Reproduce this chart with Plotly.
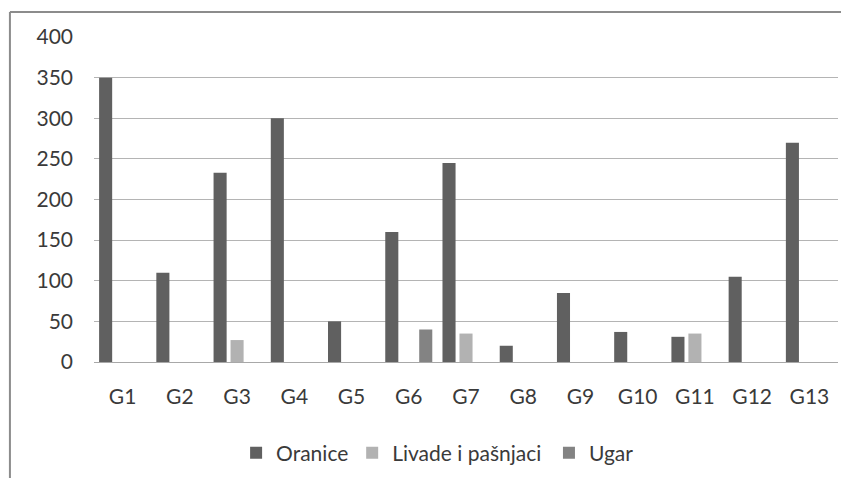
import plotly.graph_objects as go

# groups and series
groups = ['G1', 'G2', 'G3', 'G4', 'G5', 'G6', 'G7', 'G8', 'G9', 'G10', 'G11', 'G12', 'G13']
oranice = [350, 110, 233, 300, 50, 160, 245, 20, 85, 37, 31, 105, 270]
livade = [0, 0, 27, 0, 0, 0, 35, 0, 0, 0, 35, 0, 0]
ugar = [0, 0, 0, 0, 0, 40, 0, 0, 0, 0, 0, 0, 0]
y_ticks = [0, 50, 100, 150, 200, 250, 300, 350, 400]

FONT = dict(family='Lato, Calibri, sans-serif', size=21, color='#3a3a3a')

fig = go.Figure()
fig.add_trace(go.Bar(x=groups, y=oranice, name='Oranice', legend='legend',
                     marker=dict(color='#606060', line=dict(width=0))))
fig.add_trace(go.Bar(x=groups, y=livade, name='Livade i pašnjaci', legend='legend2',
                     marker=dict(color='#b2b2b2', line=dict(width=0))))
fig.add_trace(go.Bar(x=groups, y=ugar, name='Ugar', legend='legend3',
                     marker=dict(color='#838383', line=dict(width=0))))

# outer frame (only top and left edges visible in the crop)
fig.add_shape(type='line', xref='paper', yref='paper', x0=-0.113, x1=-0.113, y0=1.077, y1=-0.5,
              line=dict(color='#8c8c8c', width=2))
fig.add_shape(type='line', xref='paper', yref='paper', x0=-0.113, x1=1.1, y0=1.077, y1=1.077,
              line=dict(color='#8c8c8c', width=2))


def leg(x):
    # one legend per series so each entry sits where the reference has it
    return dict(orientation='h', x=x, xanchor='left', y=-0.28, yanchor='middle',
                font=FONT, itemwidth=30, bgcolor='rgba(0,0,0,0)')


# page body has an 8px margin, so the figure is 8px smaller each way
fig.update_layout(
    width=841, height=470,
    margin=dict(l=86, r=11, t=29, b=116, autoexpand=False),
    paper_bgcolor='white', plot_bgcolor='white',
    font=FONT,
    barmode='group', bargap=0.11, bargroupgap=0.23,
    showlegend=True,
    legend=leg(0.191), legend2=leg(0.347), legend3=leg(0.6115),
)
fig.update_xaxes(showgrid=False, showline=True, linecolor='#a8a8a8', linewidth=1, automargin=False,
                 ticks='', ticklabelstandoff=16, tickfont=FONT)
fig.update_yaxes(range=[0, 400], tickvals=y_ticks, showgrid=True, gridcolor='#b4b4b4', gridwidth=1,
                 automargin=False, zeroline=False, showline=False, ticks='', ticklabelstandoff=20,
                 tickfont=FONT)

fig.write_html("out.html")
